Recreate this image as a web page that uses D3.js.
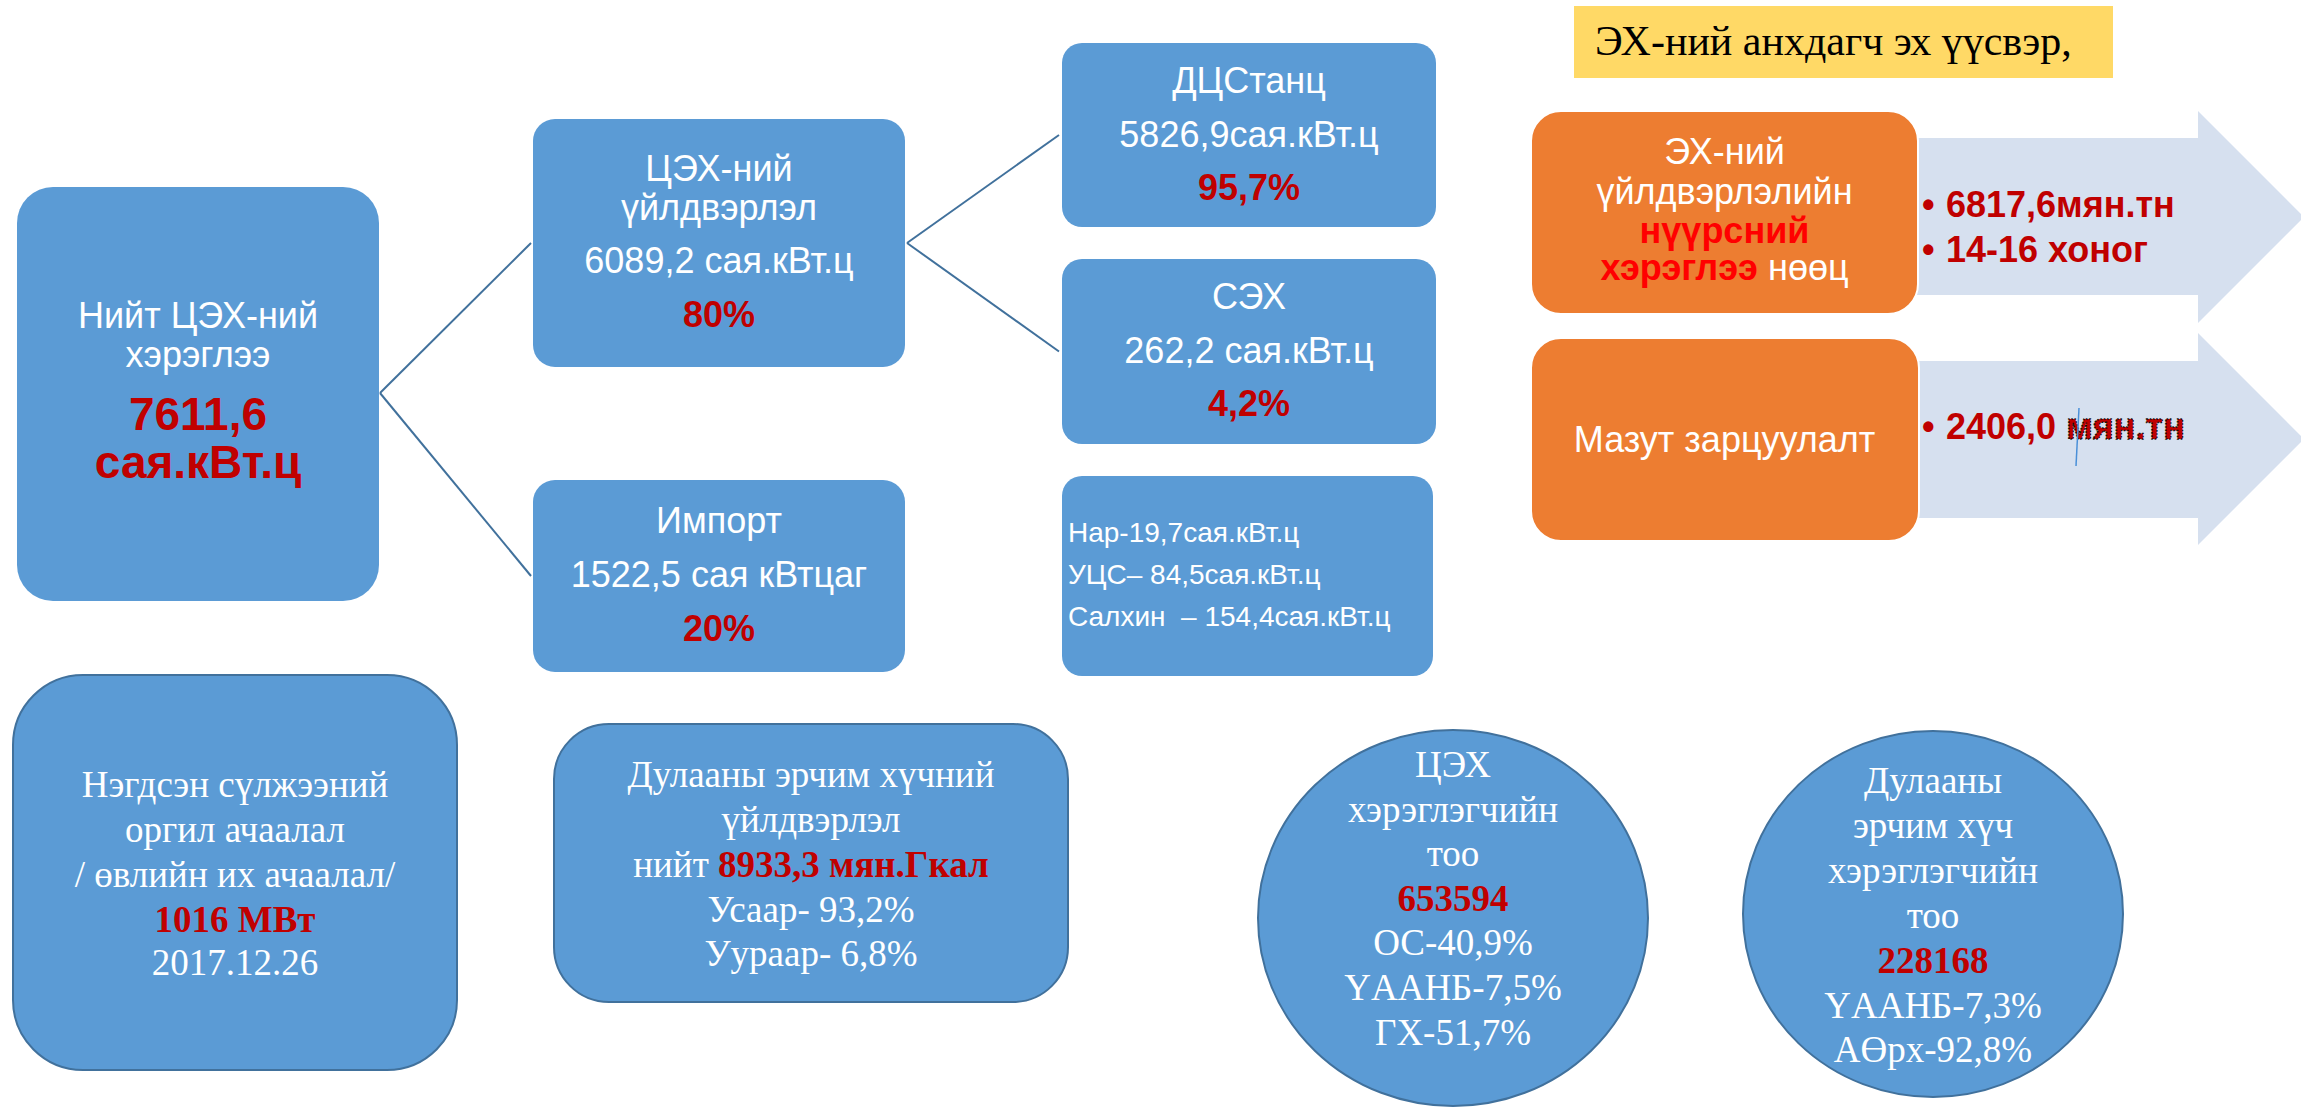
<!DOCTYPE html>
<html>
<head>
<meta charset="utf-8">
<script src="https://cdn.jsdelivr.net/npm/d3@7"></script>
<style>
  body { margin: 0; background: #fff; }
  svg { display: block; }
  text { white-space: pre; }
</style>
</head>
<body>
<script>
// ---- values ----
const totalTitle = ["Нийт ЦЭХ-ний", "хэрэглээ"];
const totalValue = ["7611,6", "сая.кВт.ц"];

const supplyNames = [["ЦЭХ-ний", "үйлдвэрлэл"], ["Импорт"]];
const supplyAmounts = ["6089,2 сая.кВт.ц", "1522,5 сая кВтцаг"];
const supplyShares = ["80%", "20%"];

const plantNames = ["ДЦСтанц", "СЭХ"];
const plantAmounts = ["5826,9сая.кВт.ц", "262,2 сая.кВт.ц"];
const plantShares = ["95,7%", "4,2%"];

const renewables = ["Нар-19,7сая.кВт.ц", "УЦС– 84,5сая.кВт.ц", "Салхин  – 154,4сая.кВт.ц"];

const sourceTitle = "ЭХ-ний анхдагч эх үүсвэр,";
const coalLabel = ["ЭХ-ний", "үйлдвэрлэлийн"];
const coalHighlight = ["нүүрсний", "хэрэглээ"];
const coalTail = " нөөц";
const coalValues = ["6817,6мян.тн", "14-16 хоног"];
const mazutLabel = "Мазут зарцуулалт";
const mazutValue = ["2406,0 ", "мян.тн"];

const peakLines = ["Нэгдсэн сүлжээний", "оргил ачаалал", "/ өвлийн их ачаалал/"];
const peakValue = "1016 МВт";
const peakDate = "2017.12.26";

const heatLines = ["Дулааны эрчим хүчний", "үйлдвэрлэл"];
const heatTotal = ["нийт ", "8933,3 мян.Гкал"];
const heatShares = ["Усаар- 93,2%", "Уураар- 6,8%"];

const elecUsersLabel = ["ЦЭХ", "хэрэглэгчийн", "тоо"];
const elecUsers = "653594";
const elecUserShares = ["ОС-40,9%", "ҮААНБ-7,5%", "ГХ-51,7%"];

const heatUsersLabel = ["Дулааны", "эрчим хүч", "хэрэглэгчийн", "тоо"];
const heatUsers = "228168";
const heatUserShares = ["ҮААНБ-7,3%", "АӨрх-92,8%"];

// ---- look ----
const W = 2301, H = 1107;
const blue = "#5B9BD5", blueDark = "#41719C", red = "#C00000", orange = "#ED7D31";
const sans = "'Liberation Sans', Arial, sans-serif";
const serif = "'Liberation Serif', 'Times New Roman', serif";

// layout scales (diagram columns / rows)
const colX = d3.scaleOrdinal().domain(["total", "supply", "plant", "fuel", "arrow"]).range([17, 533, 1062, 1531, 1900]);
const colW = d3.scaleOrdinal().domain(["total", "supply", "plant", "fuel"]).range([362, 372, 374, 387]);
const supplyY = d3.scaleOrdinal().domain([0, 1]).range([119, 480]);
const supplyH = d3.scaleOrdinal().domain([0, 1]).range([248, 192]);
const plantY = d3.scaleOrdinal().domain([0, 1, 2]).range([43, 259, 476]);
const plantH = d3.scaleOrdinal().domain([0, 1, 2]).range([184, 185, 200]);
const fuelY = d3.scaleOrdinal().domain([0, 1]).range([111, 338]);

const svg = d3.select("body").append("svg")
    .attr("width", W)
    .attr("height", H)
    .attr("viewBox", [0, 0, W, H]);

svg.append("rect").attr("width", W).attr("height", H).attr("fill", "#fff");

function box(x, y, w, h, r, opts = {}) {
  return svg.append("rect")
      .attr("x", x).attr("y", y).attr("width", w).attr("height", h)
      .attr("rx", r).attr("ry", opts.ry || r)
      .attr("fill", opts.fill || blue)
      .attr("stroke", opts.stroke || "none")
      .attr("stroke-width", opts.sw || 0);
}

// lines: [{parts:[{t, bold, color}], y, size}]
function label(cx, lines, family, anchor = "middle") {
  const g = svg.append("g").attr("font-family", family).attr("text-anchor", anchor);
  lines.forEach(l => {
    const t = g.append("text")
        .attr("x", cx).attr("y", l.y)
        .attr("font-size", l.size);
    l.parts.forEach(p => {
      const s = t.append("tspan")
          .attr("fill", p.color || "#fff")
          .attr("font-weight", p.bold ? "bold" : null)
          .text(p.t);
      if (p.extra) p.extra(s);
    });
  });
  return g;
}
const w = t => ({t});
const rb = t => ({t, bold: true, color: red});

// ---- connectors ----
const link = d3.line();
const totalRight = colX("total") + colW("total");
const totalMidY = 393;
const supplyMid = i => supplyY(i) + supplyH(i) / 2;
const supplyRight = colX("supply") + colW("supply");
const plantMid = i => plantY(i) + plantH(i) / 2;

const links = [
  [[totalRight + 1, totalMidY], [colX("supply") - 2, supplyMid(0)]],
  [[totalRight + 1, totalMidY], [colX("supply") - 2, supplyMid(1)]],
  [[supplyRight + 2, supplyMid(0)], [colX("plant") - 3, plantMid(0)]],
  [[supplyRight + 2, supplyMid(0)], [colX("plant") - 3, plantMid(1)]]
];
svg.append("g")
    .attr("fill", "none")
    .attr("stroke", blueDark)
    .attr("stroke-width", 2)
  .selectAll("path")
  .data(links)
  .join("path")
    .attr("d", d => link(d));

// ---- total box ----
box(colX("total"), 187, colW("total"), 414, 36);
const totalCx = colX("total") + colW("total") / 2;
label(totalCx, [
  {parts: [w(totalTitle[0])], y: 328, size: 36},
  {parts: [w(totalTitle[1])], y: 367, size: 36},
  {parts: [rb(totalValue[0])], y: 430, size: 46},
  {parts: [rb(totalValue[1])], y: 478, size: 46}
], sans);

// ---- supply boxes ----
const supplyBase = [[181, 220, 273, 327], [533, 587, 641]];
supplyNames.forEach((names, i) => {
  box(colX("supply"), supplyY(i), colW("supply"), supplyH(i), 22);
  const ys = supplyBase[i];
  const lines = names.map((n, k) => ({parts: [w(n)], y: ys[k], size: 36}));
  lines.push({parts: [w(supplyAmounts[i])], y: ys[names.length], size: 36});
  lines.push({parts: [rb(supplyShares[i])], y: ys[names.length + 1], size: 36});
  label(colX("supply") + colW("supply") / 2, lines, sans);
});

// ---- plant boxes ----
plantNames.forEach((n, i) => {
  box(colX("plant"), plantY(i), colW("plant"), plantH(i), 20);
  const y0 = plantY(i) + 50;
  label(colX("plant") + colW("plant") / 2, [
    {parts: [w(n)], y: y0, size: 36},
    {parts: [w(plantAmounts[i])], y: y0 + 54, size: 36},
    {parts: [rb(plantShares[i])], y: y0 + 107, size: 36}
  ], sans);
});
box(colX("plant"), plantY(2), colW("plant") - 3, plantH(2), 20);
label(colX("plant") + 6, renewables.map((r, k) => ({parts: [w(r)], y: 542 + k * 42, size: 28})), sans, "start");

// ---- primary source title ----
svg.append("rect")
    .attr("x", 1574).attr("y", 6).attr("width", 539).attr("height", 72)
    .attr("fill", "#FFD966");
label(1595, [{parts: [{t: sourceTitle, color: "#000"}], y: 55, size: 42}], serif, "start");

// ---- arrows ----
const arrowTip = 2304, arrowHead = 2198;
function arrow(top, bottom, headTop, headBottom) {
  const mid = (headTop + headBottom) / 2;
  const pts = [[colX("arrow"), top], [arrowHead, top], [arrowHead, headTop], [arrowTip, mid],
               [arrowHead, headBottom], [arrowHead, bottom], [colX("arrow"), bottom]];
  svg.append("path")
      .attr("d", d3.line()(pts) + "Z")
      .attr("fill", "#D6E0EF");
}
arrow(138, 295, 111, 323);
arrow(361, 518, 333, 545);

// ---- fuel boxes ----
const fuelCx = colX("fuel") + colW("fuel") / 2;
box(colX("fuel"), fuelY(0), colW("fuel"), 203, 30, {fill: orange, stroke: "#fff", sw: 2});
label(fuelCx, [
  {parts: [w(coalLabel[0])], y: 164, size: 36},
  {parts: [w(coalLabel[1])], y: 204, size: 36},
  {parts: [{t: coalHighlight[0], bold: true, color: "#FF0000"}], y: 243, size: 36},
  {parts: [{t: coalHighlight[1], bold: true, color: "#FF0000"}, w(coalTail)], y: 280, size: 36}
], sans);

box(colX("fuel"), fuelY(1), colW("fuel") + 1, 203, 30, {fill: orange, stroke: "#fff", sw: 2});
label(fuelCx, [{parts: [w(mazutLabel)], y: 452, size: 36}], sans);

// bullets with values
const bulletX = 1922, valueX = 1946;
const coalY = [217, 262];
coalValues.forEach((v, k) => {
  label(bulletX, [{parts: [rb("•")], y: coalY[k], size: 36}], sans, "start");
  label(valueX, [{parts: [rb(v)], y: coalY[k], size: 36}], sans, "start");
});
label(bulletX, [{parts: [rb("•")], y: 439, size: 36}], sans, "start");
label(valueX, [{parts: [
  rb(mazutValue[0]),
  {t: mazutValue[1], bold: true, color: red, extra: s => s
      .attr("stroke", "#111").attr("stroke-width", 1.4).attr("stroke-dasharray", "1.6 1.6")}
], y: 439, size: 36}], sans, "start");
svg.append("line")
    .attr("x1", 2079).attr("y1", 408).attr("x2", 2076).attr("y2", 466)
    .attr("stroke", "#4A8FD8").attr("stroke-width", 1.5);

// ---- bottom row ----
box(13, 675, 444, 395, 70, {stroke: blueDark, sw: 2});
label(235, [
  ...peakLines.map((t, k) => ({parts: [w(t)], y: 797 + k * 45, size: 37})),
  {parts: [rb(peakValue)], y: 932, size: 37},
  {parts: [w(peakDate)], y: 975, size: 37}
], serif);

box(554, 724, 514, 278, 55, {stroke: blueDark, sw: 2});
label(811, [
  ...heatLines.map((t, k) => ({parts: [w(t)], y: 787 + k * 45, size: 37})),
  {parts: [w(heatTotal[0]), rb(heatTotal[1])], y: 877, size: 37},
  ...heatShares.map((t, k) => ({parts: [w(t)], y: 922 + k * 44, size: 37}))
], serif);

function ellipse(cx, cy, rx, ry) {
  svg.append("ellipse")
      .attr("cx", cx).attr("cy", cy).attr("rx", rx).attr("ry", ry)
      .attr("fill", blue).attr("stroke", blueDark).attr("stroke-width", 2);
}
ellipse(1453, 918, 195, 188);
label(1453, [
  ...elecUsersLabel.map((t, k) => ({parts: [w(t)], y: 777 + k * 44.5, size: 37})),
  {parts: [rb(elecUsers)], y: 911, size: 37},
  ...elecUserShares.map((t, k) => ({parts: [w(t)], y: 955 + k * 45, size: 37}))
], serif);

ellipse(1933, 914, 190, 183);
label(1933, [
  ...heatUsersLabel.map((t, k) => ({parts: [w(t)], y: 793 + k * 45, size: 37})),
  {parts: [rb(heatUsers)], y: 973, size: 37},
  ...heatUserShares.map((t, k) => ({parts: [w(t)], y: 1018 + k * 44, size: 37}))
], serif);
</script>
</body>
</html>
